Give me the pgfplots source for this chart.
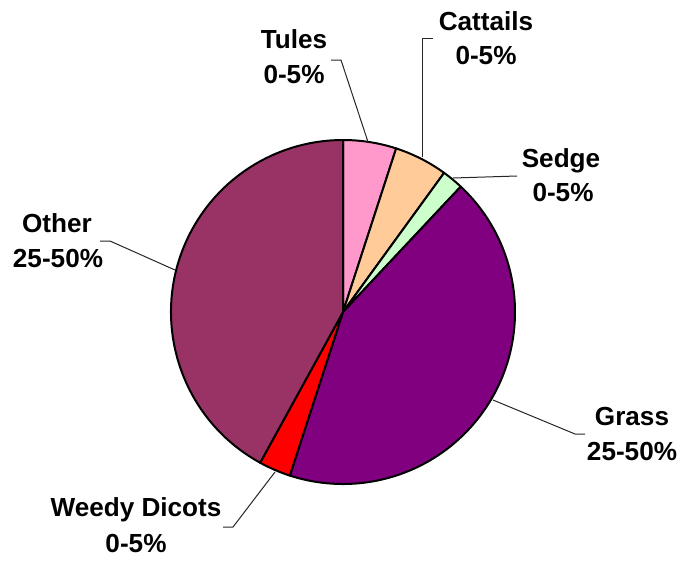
\documentclass[border=0pt]{standalone}
\usepackage{pgfplots}
\pgfplotsset{compat=1.18}
\usepackage{fontspec}
\setmainfont{Liberation Sans}
\definecolor{tules}{HTML}{FF99CC}
\definecolor{cattails}{HTML}{FFCC99}
\definecolor{sedge}{HTML}{CCFFCC}
\definecolor{grass}{HTML}{800080}
\definecolor{weedy}{HTML}{FF0000}
\definecolor{other}{HTML}{993366}
\tikzset{lbl/.style={font=\fontsize{19.6}{23}\selectfont\bfseries, anchor=base, inner sep=0pt},
  lead/.style={black!85, line width=0.75pt}}
\begin{document}
\begin{tikzpicture}
\begin{axis}[
    hide axis,
    x=0.75pt, y=0.75pt,
    xmin=0, xmax=680, ymin=0, ymax=562,
    scale only axis,
    clip=false,
]
\path (axis cs:0,0) rectangle (axis cs:680,562);
% slice shares in percent, clockwise from 12 o'clock
\xdef\cum{0}
\foreach \v/\c in {5/tules, 5/cattails, 2/sedge, 43/grass, 3/weedy, 42/other}{
  \pgfmathsetmacro\a{90-3.6*\cum}
  \pgfmathsetmacro\b{90-3.6*(\cum+\v)}
  \edef\doslice{\noexpand\filldraw[fill=\c, draw=black, line width=1.5pt, line join=round]
    (axis cs:343,250) -- ++(\a:129pt) arc[start angle=\a, end angle=\b, radius=129pt] -- cycle;}
  \doslice
  \pgfmathparse{\cum+\v}\xdef\cum{\pgfmathresult}
}
% leader lines
\draw[lead] (axis cs:368,420) -- (axis cs:341,502) -- (axis cs:331,502);
\draw[lead] (axis cs:422,405) -- (axis cs:422,523) -- (axis cs:433,523);
\draw[lead] (axis cs:453,384) -- (axis cs:517,386);
\draw[lead] (axis cs:175,292) -- (axis cs:110,321) -- (axis cs:100,321);
\draw[lead] (axis cs:493,162) -- (axis cs:575,128) -- (axis cs:585,128);
\draw[lead] (axis cs:275,90) -- (axis cs:233,35) -- (axis cs:223,35);
% labels
\node[lbl] at (axis cs:294,513) {Tules};
\node[lbl] at (axis cs:294,479) {0-5\%};
\node[lbl] at (axis cs:486,532) {Cattails};
\node[lbl] at (axis cs:486,498) {0-5\%};
\node[lbl] at (axis cs:561,395) {Sedge};
\node[lbl] at (axis cs:563,361) {0-5\%};
\node[lbl] at (axis cs:57,330) {Other};
\node[lbl] at (axis cs:58,295) {25-50\%};
\node[lbl] at (axis cs:632,137) {Grass};
\node[lbl] at (axis cs:632,102) {25-50\%};
\node[lbl] at (axis cs:136,46) {Weedy Dicots};
\node[lbl] at (axis cs:136,10) {0-5\%};
\end{axis}
\end{tikzpicture}
\end{document}
